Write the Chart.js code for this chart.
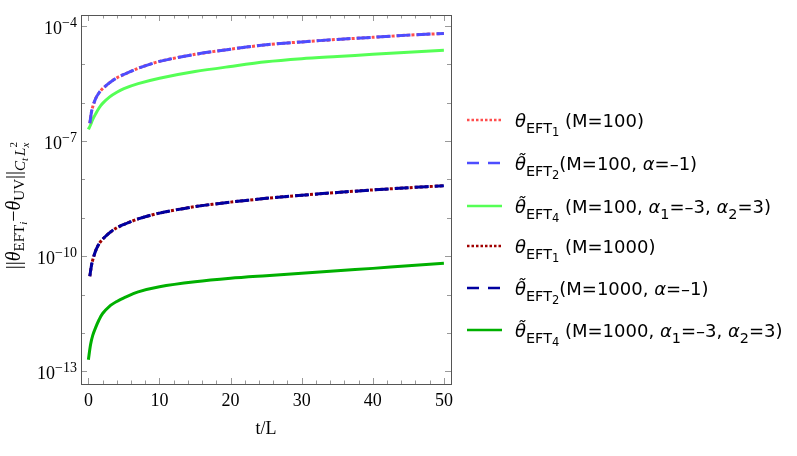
<!DOCTYPE html>
<html>
<head>
<meta charset="utf-8">
<script src="https://cdn.jsdelivr.net/npm/chart.js@4"></script>
<style>
 body{margin:0;background:#fff;}
 #contenedor{position:relative;width:797px;height:456px;}
 #leyenda{position:absolute;left:467px;top:0;width:330px;height:456px;font-family:"DejaVu Sans";font-size:18px;color:#000;}
 .item{position:absolute;left:0;white-space:nowrap;height:24px;line-height:24px;}
 .item svg{position:absolute;left:0;top:0;}
 .item span{position:absolute;left:48px;top:1px;}
 sub{font-size:0.8em;vertical-align:-0.4em;line-height:0;}
 sub sub{font-size:0.8em;vertical-align:-0.3em;}
</style>
</head>
<body>
<div id="contenedor">
 <canvas id="canvasError" width="797" height="456"></canvas>
 <div id="leyenda"></div>
</div>
<script>
//Datos (t/L y norma del error)
const tM100 = [0.2, 0.5, 1, 1.5, 2, 3, 4, 5, 7, 10, 15, 20, 25, 30, 35, 40, 45, 50];
const errEFT12M100 = [2.9e-7, 6.5e-7, 1.25e-6, 1.8e-6, 2.3e-6, 3.3e-6, 4.4e-6, 5.4e-6, 7.8e-6, 1.18e-5, 1.8e-5, 2.45e-5, 3.2e-5, 3.8e-5, 4.4e-5, 5.0e-5, 5.7e-5, 6.3e-5];
const tEFT4M100 = [0, 0.3, 0.6, 1, 1.5, 2, 3, 4, 5, 7, 10, 15, 20, 25, 30, 35, 40, 45, 50];
const errEFT4M100 = [2.0e-7, 2.6e-7, 3.6e-7, 5.0e-7, 7.2e-7, 9.5e-7, 1.4e-6, 1.85e-6, 2.3e-6, 3.1e-6, 4.3e-6, 6.4e-6, 8.7e-6, 1.15e-5, 1.38e-5, 1.58e-5, 1.8e-5, 2.05e-5, 2.3e-5];
const tM1000 = [0.2, 0.5, 1, 1.5, 2, 3, 4, 5, 7, 10, 15, 20, 25, 30, 35, 40, 45, 50];
const errEFT12M1000 = [3.0e-11, 6.6e-11, 1.35e-10, 2.1e-10, 2.75e-10, 4.1e-10, 5.5e-10, 6.7e-10, 9.3e-10, 1.32e-9, 1.95e-9, 2.55e-9, 3.2e-9, 3.85e-9, 4.55e-9, 5.3e-9, 6.05e-9, 6.8e-9];
const tEFT4M1000 = [0, 0.3, 0.6, 1, 1.5, 2, 3, 4, 5, 7, 10, 15, 20, 25, 30, 35, 40, 45, 50];
const errEFT4M1000 = [2.0e-13, 4.9e-13, 8.5e-13, 1.35e-12, 2.2e-12, 3.2e-12, 5.0e-12, 6.6e-12, 8.2e-12, 1.17e-11, 1.6e-11, 2.15e-11, 2.65e-11, 3.1e-11, 3.6e-11, 4.15e-11, 4.8e-11, 5.6e-11, 6.5e-11];

//Ticks de los ejes
const xTicks = [0, 10, 20, 30, 40, 50];
const yTicks = [1e-13, 1e-10, 1e-7, 1e-4];

//Etiquetas de la leyenda
const etiquetas = [
 '<i>θ</i><sub>EFT<sub>1</sub></sub> (M=100)',
 '<i>θ̃</i><sub>EFT<sub>2</sub></sub>(M=100, <i>α</i>=–1)',
 '<i>θ̃</i><sub>EFT<sub>4</sub></sub> (M=100, <i>α</i><sub>1</sub>=–3, <i>α</i><sub>2</sub>=3)',
 '<i>θ</i><sub>EFT<sub>1</sub></sub> (M=1000)',
 '<i>θ̃</i><sub>EFT<sub>2</sub></sub>(M=1000, <i>α</i>=–1)',
 '<i>θ̃</i><sub>EFT<sub>4</sub></sub> (M=1000, <i>α</i><sub>1</sub>=–3, <i>α</i><sub>2</sub>=3)'
];
const colores = ['#ff4d4d', '#4d4dff', '#55ff55', '#a00000', '#0000a0', '#00b000'];
const trazos = [[3, 2], [14, 6], [], [3, 2], [14, 6], []];

function puntos(ts, vals) {
 return ts.map((t, i) => ({x: t, y: vals[i]}));
}

const series = [
 puntos(tM100, errEFT12M100),
 puntos(tM100, errEFT12M100),
 puntos(tEFT4M100, errEFT4M100),
 puntos(tM1000, errEFT12M1000),
 puntos(tM1000, errEFT12M1000),
 puntos(tEFT4M1000, errEFT4M1000)
];
//orden de dibujo: los discontinuos arriba de los punteados
const ordenes = [2, 1, 3, 2, 1, 3];

let datasets = [];
for (let i = 0; i < series.length; i++) {
 datasets.push({
  label: etiquetas[i],
  data: series[i],
  borderColor: colores[i],
  borderDash: trazos[i],
  borderWidth: 3,
  pointRadius: 0,
  fill: false,
  tension: 0.3,
  order: ordenes[i]
 });
}

//Plugin: marco con ticks hacia adentro, etiquetas 10^n y titulo del eje y
const marco = {
 id: 'marco',
 afterDatasetsDraw(chart) {
  const ctx = chart.ctx;
  const a = chart.chartArea;
  const sx = chart.scales.x, sy = chart.scales.y;
  ctx.save();
  ctx.strokeStyle = '#999';
  ctx.lineWidth = 1;
  ctx.beginPath();
  for (let t = 0; t <= 50; t += 2) {
   let px = Math.round(sx.getPixelForValue(t)) + 0.5;
   let l = (t % 10 === 0) ? 6 : 3.5;
   ctx.moveTo(px, a.bottom); ctx.lineTo(px, a.bottom - l);
   ctx.moveTo(px, a.top); ctx.lineTo(px, a.top + l);
  }
  for (let e = -13; e <= -4; e++) {
   let py = Math.round(sy.getPixelForValue(Math.pow(10, e))) + 0.5;
   let l = ((e + 13) % 3 === 0) ? 6 : 4;
   ctx.moveTo(a.left, py); ctx.lineTo(a.left + l, py);
   ctx.moveTo(a.right, py); ctx.lineTo(a.right - l, py);
  }
  ctx.stroke();
  ctx.strokeStyle = '#555';
  ctx.strokeRect(Math.round(a.left) + 0.5, Math.round(a.top) + 0.5, Math.round(a.right - a.left), Math.round(a.bottom - a.top));

  //etiquetas del eje y: 10 con exponente
  ctx.fillStyle = '#000';
  ctx.textBaseline = 'alphabetic';
  ctx.textAlign = 'left';
  for (const v of yTicks) {
   let py = sy.getPixelForValue(v);
   let exp = '−' + String(Math.round(-Math.log10(v)));
   ctx.font = '14px "Liberation Serif"';
   let we = ctx.measureText(exp).width;
   ctx.font = '18px "Liberation Serif"';
   let wb = ctx.measureText('10').width;
   let x0 = a.left - 4 - we - wb;
   ctx.fillText('10', x0, py + 8);
   ctx.font = '14px "Liberation Serif"';
   ctx.fillText(exp, x0 + wb, py + 1);
  }
  ctx.restore();

  //titulo del eje y con subindices
  const piezas = [
   ['||', 20, false, 0, true],
   ['θ', 20, true, 0, true],
   ['EFT', 15, false, 4, true],
   ['i', 11, true, 7, true],
   ['−', 20, false, 0, true],
   ['θ', 20, true, 0, true],
   ['UV', 15, false, 4, true],
   ['||', 20, false, 0, true],
   ['C', 15, true, 5, true],
   ['t', 11, true, 8, true],
   [' ', 8, false, 0, true],
   ['L', 15, true, 5, true],
   ['2', 11, false, -3, false],
   ['x', 11, true, 9, true]
  ];
  const fuente = (p) => (p[2] ? 'italic ' : '') + p[1] + 'px "Liberation Serif"';
  let total = 0;
  for (const p of piezas) { ctx.font = fuente(p); if (p[4]) total += ctx.measureText(p[0]).width; }
  ctx.save();
  ctx.translate(20, 206);
  ctx.rotate(-Math.PI / 2);
  ctx.fillStyle = '#000';
  ctx.textBaseline = 'alphabetic';
  let x = -total / 2;
  for (const p of piezas) {
   ctx.font = fuente(p);
   ctx.fillText(p[0], x, p[3]);
   if (p[4]) x += ctx.measureText(p[0]).width;
  }
  ctx.restore();
 }
};

//Obtengo el canvas y dibujo
var canvas = document.getElementById("canvasError");
let grafico = new Chart(canvas, {
 type: 'line',
 data: {datasets: datasets},
 plugins: [marco],
 options: {
  responsive: false,
  animation: false,
  devicePixelRatio: 1,
  layout: {padding: {top: 15, right: 346, left: 0, bottom: 0}},
  plugins: {legend: {display: false}, tooltip: {enabled: false}},
  scales: {
   x: {
    type: 'linear',
    min: -1.04,
    max: 51,
    afterBuildTicks: s => { s.ticks = xTicks.map(v => ({value: v})); },
    afterFit: s => { s.height = 72; },
    grid: {display: false, drawTicks: false},
    border: {display: false},
    ticks: {padding: 6, color: '#000', font: {family: 'Liberation Serif', size: 18}},
    title: {display: true, text: 't/L', color: '#000', padding: {top: 0, bottom: 16}, font: {family: 'Liberation Serif', size: 18}}
   },
   y: {
    type: 'logarithmic',
    min: Math.pow(10, -13.33),
    max: Math.pow(10, -3.72),
    afterBuildTicks: s => { s.ticks = yTicks.map(v => ({value: v})); },
    afterFit: s => { s.width = 81; },
    grid: {display: false, drawTicks: false},
    border: {display: false},
    ticks: {display: false}
   }
  }
 }
});

//Leyenda en HTML
const centros = [120, 163, 206, 246, 288, 330];
let leyenda = document.getElementById("leyenda");
for (let i = 0; i < etiquetas.length; i++) {
 let d = document.createElement('div');
 d.className = 'item';
 d.style.top = (centros[i] - 12) + 'px';
 let dash = trazos[i].length ? (i % 3 === 0 ? '2.5,2' : '12,9') : 'none';
 d.innerHTML = '<svg width="36" height="24"><line x1="0" y1="12" x2="35" y2="12" stroke="' + colores[i] +
  '" stroke-width="2.5" stroke-dasharray="' + dash + '"/></svg><span>' + etiquetas[i] + '</span>';
 leyenda.appendChild(d);
}
</script>
</body>
</html>
